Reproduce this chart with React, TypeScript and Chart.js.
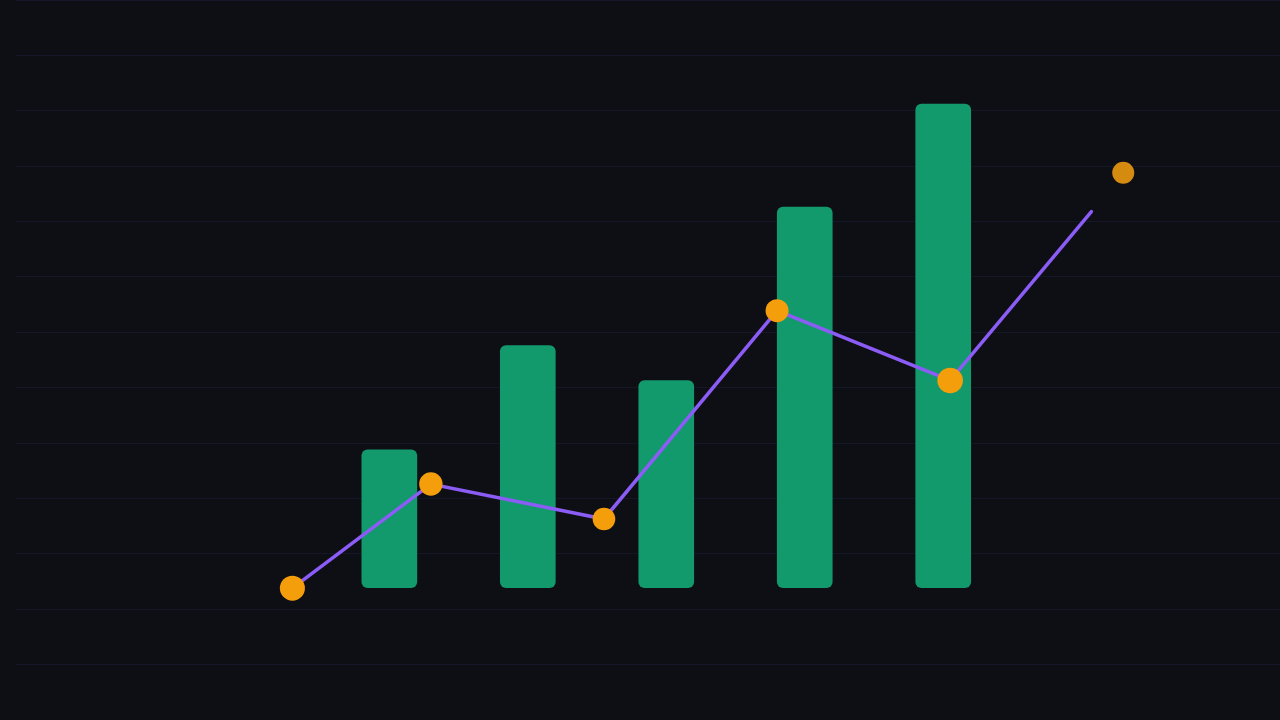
import { useEffect, useRef } from "react";
import Chart from "chart.js/auto";

// Bars sit on a hidden linear x axis (bar i at x = i)
const barX = [1, 2, 3, 4, 5];
const barBase = [23.9, 23.9, 23.9, 23.9, 23.9];
const barTops = [48.8, 67.6, 61.3, 92.6, 111.2];

// Line runs offset from the bars, last vertex has no marker
const lineX = [0.3, 1.3, 2.55, 3.8, 5.05, 6.07];
const lineValues = [23.8, 42.6, 36.3, 73.9, 61.3, 91.8];

// Lone point past the end of the line
const dotX = [6.3];
const dotValues = [98.8];

const BG = "#0e0f14";
const BAR_COLOR = "#12996c";
const LINE_COLOR = "#8b5cf6";
const POINT_COLOR = "#f59e0b";
const DOT_COLOR = "#d58b10";
const GRID_COLOR = "rgba(99, 102, 241, 0.09)";

export default function App() {
  const canvasRef = useRef<HTMLCanvasElement>(null);

  useEffect(() => {
    if (!canvasRef.current) return;
    const ctx = canvasRef.current.getContext("2d");
    if (!ctx) return;

    const chart = new Chart(ctx, {
      type: "bar",
      data: {
        datasets: [
          {
            type: "bar",
            data: barX.map((x, i) => ({ x, y: [barBase[i], barTops[i]] })) as any,
            backgroundColor: BAR_COLOR,
            borderWidth: 0,
            borderRadius: 6,
            borderSkipped: false,
            barThickness: 55,
            order: 3,
          },
          {
            type: "line",
            data: lineX.map((x, i) => ({ x, y: lineValues[i] })),
            borderColor: LINE_COLOR,
            borderWidth: 3.5,
            borderCapStyle: "round",
            tension: 0,
            pointBackgroundColor: POINT_COLOR,
            pointBorderWidth: 0,
            pointRadius: [12.5, 11.7, 11.3, 11.5, 12.8, 0],
            pointHoverRadius: [12.5, 11.7, 11.3, 11.5, 12.8, 0],
            order: 2,
          },
          {
            type: "scatter",
            data: dotX.map((x, i) => ({ x, y: dotValues[i] })),
            backgroundColor: DOT_COLOR,
            pointBorderWidth: 0,
            pointRadius: 11,
            order: 1,
          },
        ],
      },
      options: {
        animation: false,
        responsive: true,
        maintainAspectRatio: false,
        layout: {
          autoPadding: false,
          padding: { left: 16, right: 0, top: 0, bottom: 0 },
        },
        plugins: {
          legend: { display: false },
          tooltip: { enabled: false },
        },
        scales: {
          x: {
            type: "linear",
            display: false,
            offset: false,
            min: -1.696,
            max: 7.432,
          },
          y: {
            min: 0,
            max: 130,
            ticks: { display: false, stepSize: 10 },
            border: { display: false },
            grid: { color: GRID_COLOR, lineWidth: 1, drawTicks: false },
          },
        },
      },
    });

    return () => {
      chart.destroy();
    };
  }, []);

  return (
    <div
      style={{
        position: "fixed",
        left: 0,
        top: 0,
        width: 1280,
        height: 720,
        background: BG,
      }}
    >
      <canvas ref={canvasRef} />
    </div>
  );
}
